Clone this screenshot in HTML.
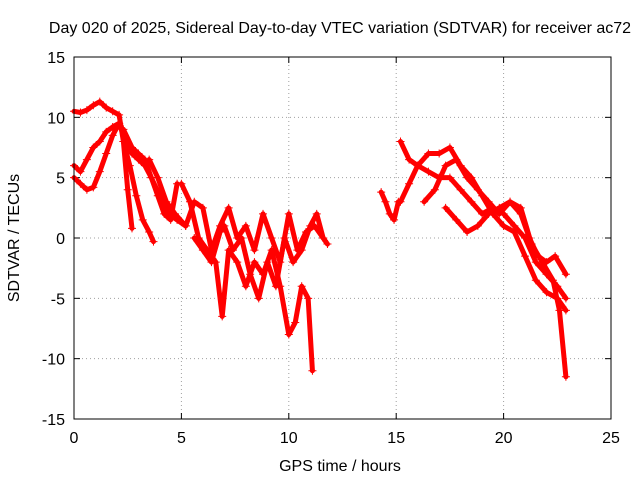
<!DOCTYPE html>
<html><head><meta charset="utf-8"><style>
body{margin:0;background:#fff;}
svg text{font-family:"Liberation Sans",sans-serif;font-size:16px;fill:#000;}
</style></head><body>
<svg id="chart" width="640" height="480" xmlns="http://www.w3.org/2000/svg">
<rect width="640" height="480" fill="#fff"/>
<text x="340" y="33" text-anchor="middle">Day 020 of 2025, Sidereal Day-to-day VTEC variation (SDTVAR) for receiver ac72</text>
<text x="340" y="471" text-anchor="middle">GPS time / hours</text>
<text transform="translate(19,238) rotate(-90)" text-anchor="middle">SDTVAR / TECUs</text>
<g id="grid"></g>
<g id="ticks"></g>
<g id="marks"></g>
<rect x="74" y="57" width="537" height="362" fill="none" stroke="#000" stroke-width="1"/>
</svg>
<script>
const xTicks=[0,5,10,15,20,25];
const yTicks=[-15,-10,-5,0,5,10,15];
const trackX=[
[0,0.3,0.6,0.9,1.2,1.5,1.8,2.1,2.3,2.5,2.7],
[0,0.3,0.6,0.9,1.2,1.5,1.8,2.1,2.4,2.7,3.0,3.3,3.6,3.9,4.2,4.5,4.8],
[0,0.3,0.6,0.9,1.2,1.5,1.8,2.1],
[2.3,2.6,2.9,3.2,3.5,3.7],
[2.3,2.7,3.0,3.3,3.6,4.0,4.4,4.8,5.2],
[3.5,3.9,4.3,4.7,5.2,5.6,6.0,6.4,6.8,7.2,7.6,8.0,8.4,8.8,9.2,9.6,10.0,10.4,10.8,11.2,11.6,11.8],
[5.0,5.4,5.8,6.2,6.6,6.9,7.2,7.6,8.0,8.4,8.8,9.2,9.6,10.0,10.3,10.6,10.9,11.1],
[5.6,6.0,6.4,6.8,7.0,7.4,7.8,8.2,8.6,9.0,9.4,9.8,10.2,10.6,11.0,11.3,11.6],
[14.3,14.5,14.7,14.9,15.1],
[15.2,15.6,16,16.5,17,17.5,18,18.5,19,19.5,20,20.5,21,21.5,22,22.5,22.9],
[15.2,15.6,16,16.5,17,17.5,18,18.5,19,19.5,20,20.5,21,21.5,22,22.5,22.9],
[16.3,16.8,17.3,17.8,18.3,18.8,19.3,19.8,20.3,20.8,21.3,21.8,22.3,22.6,22.9],
[17.3,17.8,18.3,18.8,19.3,19.8,20.3,20.8,21.2,21.6,22.0,22.4,22.9]
];
const trackY=[
[10.5,10.4,10.6,11,11.3,10.8,10.5,10.2,8,4,0.8],
[6,5.5,6.5,7.5,8,8.8,9.2,9.5,8,7,6.5,6,5,3.5,2,1.5,4.5],
[5,4.5,4,4.2,5.5,7,8.5,9.5],
[8,6,3.5,1.5,0.5,-0.3],
[9,7.5,7,6.5,5,3.5,2,1.5,1],
[6.5,5,3,2,1,3,2.5,-1,1,2.5,0,1,-1,2,0,-2,2,-1,0.5,1,0,-0.5],
[4.5,3,0,-1,-2,-6.5,-1,-2,-4,-2,-3,-1,-4,-8,-7,-4,-5,-11],
[0,-1,-2,0.5,1,-1,0,-3,-5,-2,-4,0,-2,-1,1,2,0],
[3.8,3,2,1.5,3],
[8,6.5,6,5.5,5,5,4,3,2,2.5,2,1,0,-2,-3,-4,-5],
[3,4.5,6,7,7,7.5,6,5,3.5,2,1,0.5,-1.5,-3.5,-4.5,-5,-6],
[3,4,6,6.5,5,4,3,2,3,2.5,-0.5,-2,-3.5,-6,-11.5],
[2.5,1.5,0.5,1,2,2.5,3,2,0,-1.5,-2,-1.5,-3]
];
const X0=74,X1=611,Y0=419,Y1=57;
function sx(v){return X0+(v-0)/(25-0)*(X1-X0);}
function sy(v){return Y0-(v+15)/30*(Y0-Y1);}
const NS="http://www.w3.org/2000/svg";
const grid=document.getElementById('grid'),ticks=document.getElementById('ticks'),marks=document.getElementById('marks');
function mk(tag,attrs,parent){const e=document.createElementNS(NS,tag);for(const k in attrs)e.setAttribute(k,attrs[k]);parent.appendChild(e);return e;}
xTicks.forEach(t=>{
 const x=sx(t);
 if(t>0&&t<25){const g=mk('line',{x1:x,x2:x,y1:Y1,y2:Y0,stroke:'#a0a0a0','stroke-dasharray':'1,3'},grid);
 
 }
 mk('line',{x1:x,x2:x,y1:Y0,y2:Y0-6,stroke:'#000'},ticks);
 mk('line',{x1:x,x2:x,y1:Y1,y2:Y1+6,stroke:'#000'},ticks);
 const tx=mk('text',{x:x,y:Y0+24,'text-anchor':'middle'},ticks);tx.textContent=t;
 
 
});
yTicks.forEach(t=>{
 const y=sy(t);
 if(t>-15&&t<15){const g=mk('line',{x1:X0,x2:X1,y1:y,y2:y,stroke:'#a0a0a0','stroke-dasharray':'1,3'},grid);
 
 }
 mk('line',{x1:X0,x2:X0+6,y1:y,y2:y,stroke:'#000'},ticks);
 mk('line',{x1:X1,x2:X1-6,y1:y,y2:y,stroke:'#000'},ticks);
 const tx=mk('text',{x:X0-9,y:y+6,'text-anchor':'end'},ticks);tx.textContent=t;
 
 
});
trackX.forEach((xs,i)=>{
 const ys=trackY[i];
 const pts=xs.map((v,j)=>sx(v)+','+sy(ys[j])).join(' ');
 const pl=mk('polyline',{points:pts,fill:'none',stroke:'#ff0000','stroke-width':5,'stroke-linejoin':'round','stroke-linecap':'round'},marks);
 
 
 xs.forEach((v,j)=>{
  const cx=sx(v),cy=sy(ys[j]);
  const p=mk('path',{d:`M${cx-4},${cy}H${cx+4}M${cx},${cy-4}V${cy+4}`,stroke:'#ff0000','stroke-width':1},marks);
  
  
 });
});
</script>
</body></html>
